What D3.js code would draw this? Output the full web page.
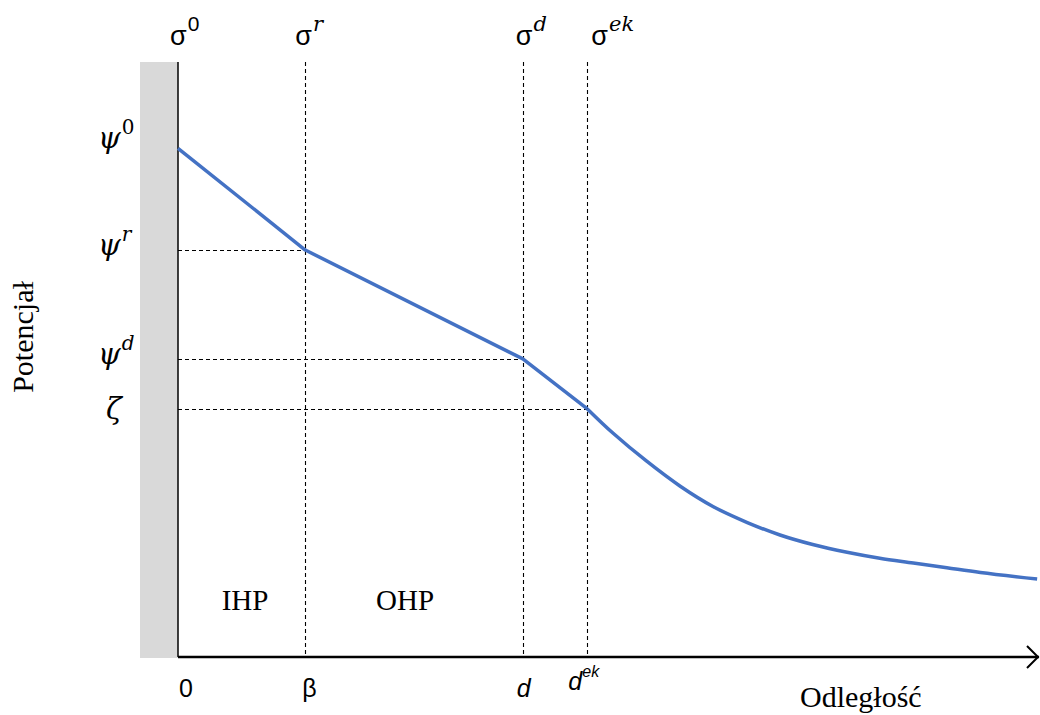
<!DOCTYPE html>
<html>
<head>
<meta charset="utf-8">
<script src="https://cdn.jsdelivr.net/npm/d3@7"></script>
<style>
  html, body { margin: 0; padding: 0; background: #fff; }
  svg { display: block; }
</style>
</head>
<body>
<svg id="chart" width="1040" height="715"></svg>
<script>
// Potential profile across the electrical double layer (arbitrary units)
const distance  = [0, 14.8, 40.1, 47.6, 50.6, 54.5, 58.4, 62.2, 66.2, 70.0, 73.8, 77.8, 81.6, 85.5, 89.4, 93.3, 99.9];
const potential = [85.5, 68.4, 50.1, 41.7, 37.6, 32.9, 28.7, 25.3, 22.6, 20.5, 18.9, 17.6, 16.6, 15.8, 15.0, 14.2, 13.1];

// Characteristic planes: position and the potential reached there
const planeX      = [14.8, 40.1, 47.6];
const planeLevel  = [68.4, 50.1, 41.7];
const planeSigma  = ["r", "d", "ek"];
const planeTick   = [["β", ""], ["d", ""], ["d", "ek"]];

// Potential levels marked on the vertical axis
const levelValue  = [85.5, 68.4, 50.1, 41.7];
const levelSymbol = ["ψ", "ψ", "ψ", "ζ"];
const levelSup    = ["0", "r", "d", ""];

// Layer names
const layerNames  = ["IHP", "OHP"];
const layerMid    = [7.8, 26.4];

const svg = d3.select("#chart");

const x = d3.scaleLinear().domain([0, 100]).range([178, 1038]);
const y = d3.scaleLinear().domain([0, 100]).range([657, 62]);

const blue = "#4472C4";
const serif = "'Liberation Serif', 'Times New Roman', serif";
const mathSerif = "'DejaVu Serif', 'Liberation Serif', serif";
const sans = "'Liberation Sans', Arial, sans-serif";

// Electrode surface (grey slab)
svg.append("rect")
  .attr("x", x(0) - 38).attr("y", y(100))
  .attr("width", 38).attr("height", y(0) - y(100) + 1)
  .attr("fill", "#D9D9D9");

// Vertical dashed planes
svg.selectAll("line.plane").data(planeX).join("line")
  .attr("class", "plane")
  .attr("x1", d => Math.round(x(d)) + 0.5).attr("x2", d => Math.round(x(d)) + 0.5)
  .attr("y1", y(100)).attr("y2", y(0))
  .attr("stroke", "#000").attr("stroke-width", 1.1)
  .attr("stroke-dasharray", "4,3");

// Horizontal dashed levels
svg.selectAll("line.level").data(planeX).join("line")
  .attr("class", "level")
  .attr("x1", x(0)).attr("x2", d => x(d))
  .attr("y1", (d, i) => Math.round(y(planeLevel[i])) + 0.5)
  .attr("y2", (d, i) => Math.round(y(planeLevel[i])) + 0.5)
  .attr("stroke", "#000").attr("stroke-width", 1.1)
  .attr("stroke-dasharray", "4,3");

// Axes
svg.append("line")
  .attr("x1", x(0)).attr("x2", x(0))
  .attr("y1", y(100)).attr("y2", y(0))
  .attr("stroke", "#000").attr("stroke-width", 1.5);
svg.append("line")
  .attr("x1", x(0)).attr("x2", x(100) + 1)
  .attr("y1", y(0)).attr("y2", y(0))
  .attr("stroke", "#000").attr("stroke-width", 2.5);
svg.append("path")
  .attr("d", `M${x(100) - 11},${y(0) - 11} L${x(100)},${y(0)} L${x(100) - 11},${y(0) + 11}`)
  .attr("fill", "none").attr("stroke", "#000").attr("stroke-width", 2);

// Potential curve: linear through the compact layer, smooth in the diffuse layer
const pts = distance.map((d, i) => [d, potential[i]]);
const lineLin = d3.line().x(d => x(d[0])).y(d => y(d[1])).curve(d3.curveLinear);
const lineSmooth = d3.line().x(d => x(d[0])).y(d => y(d[1])).curve(d3.curveCatmullRom.alpha(0.5));
svg.append("path")
  .attr("d", lineLin(pts.slice(0, 4)))
  .attr("fill", "none").attr("stroke", blue).attr("stroke-width", 3.5)
  .attr("stroke-linejoin", "round");
svg.append("path")
  .attr("d", lineSmooth(pts.slice(3)))
  .attr("fill", "none").attr("stroke", blue).attr("stroke-width", 3.5)
  .attr("stroke-linecap", "butt");

// Surface charge labels above each plane
const sigmaAt = [0].concat(planeX);
const sigmaSup = ["0"].concat(planeSigma);
const sigmaDx = [-8, -10, -7, 4];
sigmaAt.forEach((p, i) => {
  const t = svg.append("text")
    .attr("x", x(p) + sigmaDx[i]).attr("y", 45)
    .attr("font-family", sans).attr("font-size", 27).attr("fill", "#000");
  t.append("tspan").text("σ");
  t.append("tspan")
    .attr("dy", -14).attr("dx", 1)
    .attr("font-size", 21)
    .attr("font-family", i === 0 ? sans : mathSerif)
    .attr("font-style", i === 0 ? "normal" : "italic")
    .text(sigmaSup[i]);
});

// Potential level labels on the left
levelValue.forEach((v, i) => {
  const sym = levelSymbol[i];
  const t = svg.append("text")
    .attr("x", sym === "ζ" ? 106 : 98)
    .attr("y", y(v) + (i === 0 ? 0 : i === 3 ? 10 : 5))
    .attr("font-family", mathSerif).attr("font-size", 29).attr("font-style", "italic")
    .attr("fill", "#000");
  t.append("tspan").text(sym);
  if (levelSup[i]) {
    t.append("tspan")
      .attr("dy", -14).attr("dx", 1)
      .attr("font-size", 20)
      .attr("font-style", levelSup[i] === "0" ? "normal" : "italic")
      .text(levelSup[i]);
  }
});

// Distance tick labels under the axis
const tickAt = [0].concat(planeX);
const tickText = [["0", ""]].concat(planeTick);
const tickDx = [1, -3, -6, -19];
tickAt.forEach((p, i) => {
  const [base, sup] = tickText[i];
  const t = svg.append("text")
    .attr("x", x(p) + tickDx[i]).attr("y", sup ? 690 : 697)
    .attr("font-family", sans).attr("font-size", 25).attr("fill", "#000");
  t.append("tspan")
    .attr("font-style", base === "d" ? "italic" : "normal")
    .text(base);
  if (sup) {
    t.append("tspan")
      .attr("dy", -13).attr("dx", 0)
      .attr("font-size", 16).attr("font-style", "italic")
      .text(sup);
  }
});

// Layer names
svg.selectAll("text.layer").data(layerNames).join("text")
  .attr("class", "layer")
  .attr("x", (d, i) => x(layerMid[i]))
  .attr("y", 610)
  .attr("text-anchor", "middle")
  .attr("font-family", serif).attr("font-size", 29).attr("fill", "#000")
  .text(d => d);

// Axis titles
svg.append("text")
  .attr("x", 800).attr("y", 707)
  .attr("font-family", serif).attr("font-size", 30).attr("fill", "#000")
  .text("Odległość");
svg.append("text")
  .attr("transform", "translate(33,337) rotate(-90)")
  .attr("text-anchor", "middle")
  .attr("font-family", serif).attr("font-size", 30).attr("fill", "#000")
  .text("Potencjał");
</script>
</body>
</html>
